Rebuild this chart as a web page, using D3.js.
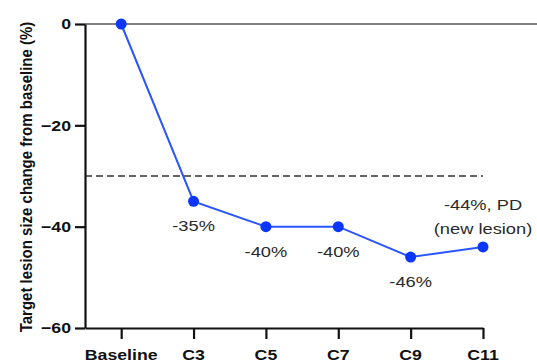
<!DOCTYPE html>
<html>
<head>
<meta charset="utf-8">
<script src="https://cdn.jsdelivr.net/npm/d3@7"></script>
<style>
  html, body { margin: 0; padding: 0; background: #fff; }
  svg { display: block; font-family: "Liberation Sans", Arial, Helvetica, sans-serif; }
</style>
</head>
<body>
<svg id="chart" width="537" height="363"></svg>
<script>
// Visits and tumour size change (%) relative to baseline
const visits = ["Baseline", "C3", "C5", "C7", "C9", "C11"];
const changePct = [0, -35, -40, -40, -46, -44];
const yTicks = [0, -20, -40, -60];
const thresholdPct = -30;
const pointLabels = [null, ["-35%"], ["-40%"], ["-40%"], ["-46%"], ["-44%, PD", "(new lesion)"]];
const labelAbove = [false, false, false, false, false, true];

(function draw() {
  const svg = d3.select("#chart");
  const W = 537;
  const plotLeft = 85, plotRight = 483, plotTop = 24, plotBottom = 328;
  const sx = 1.18; // horizontal text stretch

  const x = d3.scaleLinear().domain([-0.5, visits.length - 1]).range([plotLeft, plotRight]);
  const y = d3.scaleLinear().domain([0, -60]).range([plotTop, plotBottom]);

  // zero reference line spanning to the right edge
  svg.append("line")
    .attr("x1", plotLeft).attr("x2", W)
    .attr("y1", y(0)).attr("y2", y(0))
    .attr("stroke", "#555").attr("stroke-width", 1.6);

  // response threshold
  svg.append("line")
    .attr("x1", plotLeft).attr("x2", plotRight)
    .attr("y1", y(thresholdPct)).attr("y2", y(thresholdPct))
    .attr("stroke", "#333").attr("stroke-width", 1.4)
    .attr("stroke-dasharray", "7,4");

  // Y axis
  const yAxis = svg.append("g").attr("transform", `translate(${plotLeft},0)`)
    .call(d3.axisLeft(y).tickValues(yTicks).tickSize(10).tickSizeOuter(0).tickFormat(d3.format("d")));
  yAxis.select(".domain").attr("stroke", "#111").attr("stroke-width", 2.2);
  yAxis.selectAll(".tick line").attr("stroke", "#111").attr("stroke-width", 2.2);
  yAxis.selectAll(".tick text").remove();
  yTicks.forEach(v => {
    svg.append("text")
      .attr("transform", `translate(${plotLeft - 14},${y(v)}) scale(${sx},1)`)
      .attr("text-anchor", "end").attr("dy", "0.36em")
      .attr("font-size", 15).attr("font-weight", "bold").attr("fill", "#111")
      .text(d3.format("d")(v));
  });

  // X axis
  const xAxis = svg.append("g").attr("transform", `translate(0,${plotBottom})`)
    .call(d3.axisBottom(x).tickValues(d3.range(visits.length)).tickSize(11).tickSizeOuter(0).tickFormat(""));
  xAxis.select(".domain").attr("stroke", "#111").attr("stroke-width", 2.2);
  xAxis.selectAll(".tick line").attr("stroke", "#111").attr("stroke-width", 2.2);
  visits.forEach((v, i) => {
    svg.append("text")
      .attr("transform", `translate(${x(i)},${plotBottom + 32}) scale(${sx},1)`)
      .attr("text-anchor", "middle")
      .attr("font-size", 15).attr("font-weight", "bold").attr("fill", "#111")
      .text(v);
  });

  // Y axis title
  svg.append("text")
    .attr("transform", `translate(32,${(plotTop + plotBottom) / 2 + 1}) scale(1.08,1) rotate(-90)`)
    .attr("text-anchor", "middle")
    .attr("font-size", 15).attr("font-weight", "bold").attr("fill", "#111")
    .text("Target lesion size change from baseline (%)");

  // series line and points
  const pts = changePct.map((v, i) => [x(i), y(v)]);
  svg.append("path")
    .attr("d", d3.line()(pts))
    .attr("fill", "none").attr("stroke", "#2a55ff").attr("stroke-width", 2);
  svg.selectAll("circle.pt").data(changePct).join("circle")
    .attr("class", "pt")
    .attr("cx", (d, i) => x(i)).attr("cy", d => y(d)).attr("r", 5.5)
    .attr("fill", "#0a36ff");

  // value labels
  pointLabels.forEach((lines, i) => {
    if (!lines) return;
    const px = x(i), py = y(changePct[i]);
    lines.forEach((t, j) => {
      const yy = labelAbove[i]
        ? py - 13 - (lines.length - 1 - j) * 24
        : py + 30;
      svg.append("text")
        .attr("transform", `translate(${px},${yy}) scale(${sx},1)`)
        .attr("text-anchor", "middle")
        .attr("font-size", 15.5).attr("fill", "#2a2a2a")
        .text(t);
    });
  });
})();
</script>
</body>
</html>
